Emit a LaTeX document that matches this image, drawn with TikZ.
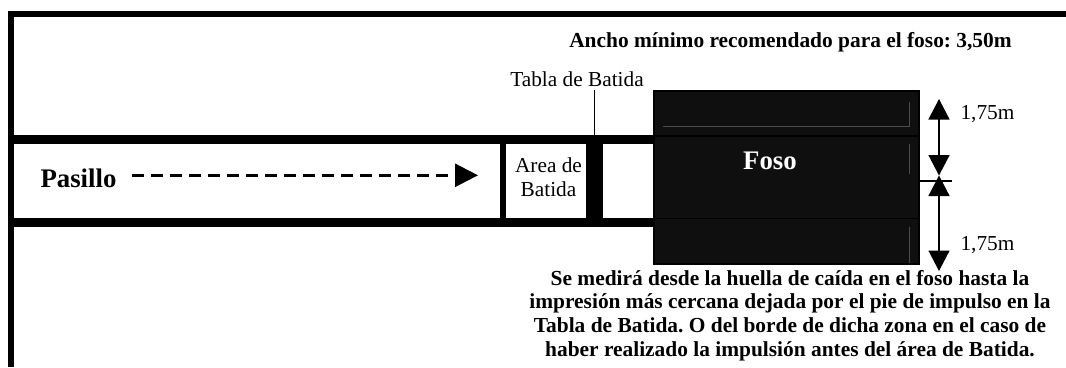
\documentclass[tikz,border=0pt]{standalone}
\usepackage{fontspec}
\setmainfont{Liberation Serif}
\frenchspacing
\usetikzlibrary{arrows.meta}
\tikzset{
  x=1pt,y=-1pt,
  wall/.style={fill=black,draw=none},
  pit/.style={fill=black!94,draw=black,line width=2pt},
  hair/.style={draw=black!70,line width=0.6pt},
  lbl/.style={inner sep=0pt,align=center,font=\fontsize{21.3}{24}\selectfont},
  bold/.style={inner sep=0pt,align=center,font=\bfseries\fontsize{21.4}{23.7}\selectfont},
  big/.style={inner sep=0pt,font=\bfseries\fontsize{26.8}{30}\selectfont},
  dim/.style={line width=1.4pt,{Triangle[length=20.5pt,width=21pt]}-{Triangle[length=20.5pt,width=21pt]}}
}
\begin{document}
\begin{tikzpicture}
\frenchspacing
\useasboundingbox (0,0) rectangle (1066,367);
\fill[white] (0,0) rectangle (1066,367);
% outer walls
\fill[wall] (8,11) rectangle (1066,17);
\fill[wall] (8,11) rectangle (14,367);
% corridor
\fill[wall] (8,135) rectangle (654,144);
\fill[wall] (8,218) rectangle (654,227);
\fill[wall] (500,135) rectangle (506,227);
\fill[wall] (586,135) rectangle (603,227);
% pit
\path[pit] (654,91) rectangle (919,264);
\draw[black,line width=1.4pt] (653,136) -- (920,136);
\draw[black,line width=0.7pt] (653,218) -- (920,218);
\draw[hair] (663,126.5) -- (909.5,126.5) -- (909.5,102);
\draw[hair] (909.5,144) -- (909.5,174);
\draw[hair] (909.5,227) -- (909.5,263);
% tabla de batida leader
\coordinate (tb) at (594.5,90);
\coordinate (tw) at (594.5,135);
\draw[black,line width=0.8pt] (tb) -- (tw);
% labels
\node[bold] (ancho) at (790.5,42.5) {Ancho mínimo recomendado para el foso: 3,50m};
\node[lbl] (tabla) at (577,79) {Tabla de Batida};
\node[big] (pasillo) at (78.5,178) {Pasillo};
\node[lbl] (area) at (548.5,177) {Area de\\Batida};
\node[big,text=white] (foso) at (770,160.5) {Foso};
\coordinate (a0) at (132,175.3);
\coordinate (a1) at (478,175.3);
\draw[line width=2.6pt,dash pattern=on 11.5pt off 7.5pt,-{Triangle[length=23pt,width=23pt]}] (a0) -- (a1);
% dimensions
\coordinate (d0) at (939,99);
\coordinate (dm) at (939,175.5);
\coordinate (d1) at (939,271);
\coordinate (e0) at (920,181);
\coordinate (e1) at (952,181);
\draw[black,line width=1.4pt] (e0) -- (e1);
\draw[dim] (d0) -- (dm);
\draw[dim] (dm) -- (d1);
\node[lbl] (d1l) at (987.5,114) {1,75m};
\node[lbl] (d2l) at (987.5,245) {1,75m};
\node[bold] (nota) at (790,315.5) {Se medirá desde la huella de caída en el foso hasta la\\impresión más cercana dejada por el pie de impulso en la\\Tabla de Batida. O del borde de dicha zona en el caso de\\haber realizado la impulsión antes del área de Batida.};
\end{tikzpicture}
\end{document}
